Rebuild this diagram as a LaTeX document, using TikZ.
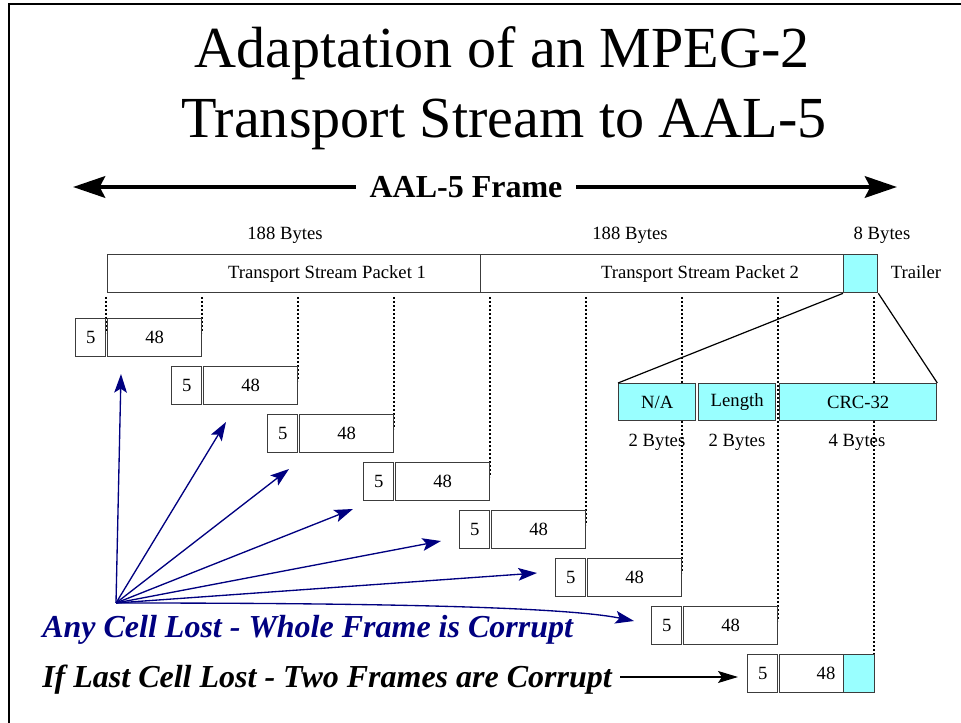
\documentclass[tikz,border=0pt]{standalone}
\usepackage{fontspec}
\setmainfont{Liberation Serif}
\usetikzlibrary{arrows.meta}
\definecolor{trailercyan}{RGB}{153,255,255}
\definecolor{lossblue}{RGB}{0,0,128}
\definecolor{boxgray}{RGB}{60,60,60}

\begin{document}
\begin{tikzpicture}[x=0.75pt,y=-0.75pt,
  title/.style={font=\fontsize{43.6}{52}\selectfont, inner sep=0, anchor=base},
  lbl/.style={font=\fontsize{14}{17}\selectfont, inner sep=0, anchor=base},
  outline/.style={draw=boxgray, line width=1pt, inner sep=0, anchor=north west},
  hdrbox/.style={outline, fill=white, minimum width=22.5pt, minimum height=28.5pt,
    font=\fontsize{14}{17}\selectfont},
  paybox/.style={outline, fill=white, minimum width=70.5pt, minimum height=28.5pt,
    font=\fontsize{14}{17}\selectfont},
  fieldbox/.style={outline, fill=trailercyan, minimum height=27.75pt,
    font=\fontsize{14}{17}\selectfont},
  boundary/.style={line width=1.4pt, dash pattern=on 1.4pt off 1.6pt},
  loss/.style={draw=lossblue, line width=1pt, -{Stealth[length=14pt,width=9.5pt,inset=3pt]}},
  framearrow/.style={line width=3.5pt, -{Stealth[length=24pt,width=16pt,inset=4pt]}},
  note/.style={font=\fontsize{24}{28}\selectfont\bfseries\itshape, inner sep=0, anchor=base west}
]
\useasboundingbox (0,0) rectangle (961,723);

% slide border
\draw[line width=1.6pt] (9,740) -- (9,4) -- (980,4);

% title
\node[title] (title1) at (502,68) {Adaptation of an MPEG-2};
\node[title] (title2) at (504,138) {Transport Stream to AAL-5};

% AAL-5 frame extent
\node[font=\fontsize{24}{28}\selectfont\bfseries, inner ysep=0, inner xsep=10pt]
  (aal) at (466,187) {AAL-5 Frame};
\coordinate (lefttip) at (73,187);
\coordinate (righttip) at (897,187);
\draw[framearrow] (aal.west) -- (lefttip);
\draw[framearrow] (aal.east) -- (righttip);

% byte counts
\node[lbl] (len1) at (285,240) {188 Bytes};
\node[lbl] (len2) at (630,240) {188 Bytes};
\node[lbl] (len3) at (882,240) {8 Bytes};

% cell boundaries
\draw[boundary] (106,297) -- (106,333);
\foreach \k in {1,...,7} {
  \draw[boundary] ({106+96*\k},297) -- ({106+96*\k},{333+48*(\k-1)});
}
\draw[boundary] (874,297) -- (874,654);

% frame: two transport stream packets and the trailer
\node[outline, minimum width=279.75pt, minimum height=28.5pt] (ts1) at (107,254) {};
\node[outline, minimum width=272.25pt, minimum height=28.5pt] (ts2) at (480,254) {};
\node[outline, fill=trailercyan, minimum width=25.5pt, minimum height=28.5pt] (trl) at (843,254) {};
\node[lbl] (ts1lbl) at (327,279) {Transport Stream Packet 1};
\node[lbl] (ts2lbl) at (700,279) {Transport Stream Packet 2};
\node[lbl] (trllbl) at (916,279) {Trailer};

% trailer fields
\node[fieldbox, minimum width=57.75pt] (na) at (618,383) {N/A};
\node[fieldbox, minimum width=57.75pt] (length) at (698,383) {Length};
\node[fieldbox, minimum width=117.75pt] (crc) at (779,383) {CRC-32};
\draw[line width=0.9pt] (trl.south west) -- (na.north west);
\draw[line width=0.9pt] (trl.south east) -- (crc.north east);
\node[lbl] (nalen) at (657,447) {2 Bytes};
\node[lbl] (lenlen) at (737,447) {2 Bytes};
\node[lbl] (crclen) at (857,447) {4 Bytes};

% ATM cells: 5-byte header, 48-byte payload
\foreach \i in {0,...,6} {
  \node[hdrbox] (h\i) at ({75+96*\i},{318+48*\i}) {5};
  \node[paybox] (p\i) at ({107+96*\i},{318+48*\i}) {48};
}
\node[hdrbox] (h7) at (747,654) {5};
\node[paybox] (p7) at (779,654) {};
\node[outline, fill=trailercyan, minimum width=23.25pt, minimum height=28.5pt] (p7trl) at (843,654) {};
\node[lbl] (p7lbl) at (826,679) {48};

% loss of any cell
\coordinate (src) at (116,603);
\coordinate (t0) at (121,374);
\coordinate (t1) at (226,422);
\coordinate (t2) at (289,469);
\coordinate (t3) at (353,509);
\coordinate (t4) at (441,541);
\coordinate (t5) at (537,573);
\coordinate (t6) at (634,621);
\foreach \i in {0,...,5} { \draw[loss] (src) -- (t\i); }
\draw[loss] (src) .. controls (350,603) and (560,606) .. (t6);

\node[note, text=lossblue] (anylbl) at (42,638) {Any Cell Lost - Whole Frame is Corrupt};
\node[note, inner xsep=0pt] (lastlbl) at (42,687) {If Last Cell Lost - Two Frames are Corrupt};
\coordinate (lasttip) at (738,677);
\draw[line width=0.9pt, -{Stealth[length=15pt,width=9pt,inset=3pt]}]
  ([xshift=6pt]lastlbl.east |- lasttip) -- (lasttip);
\end{tikzpicture}
\end{document}
